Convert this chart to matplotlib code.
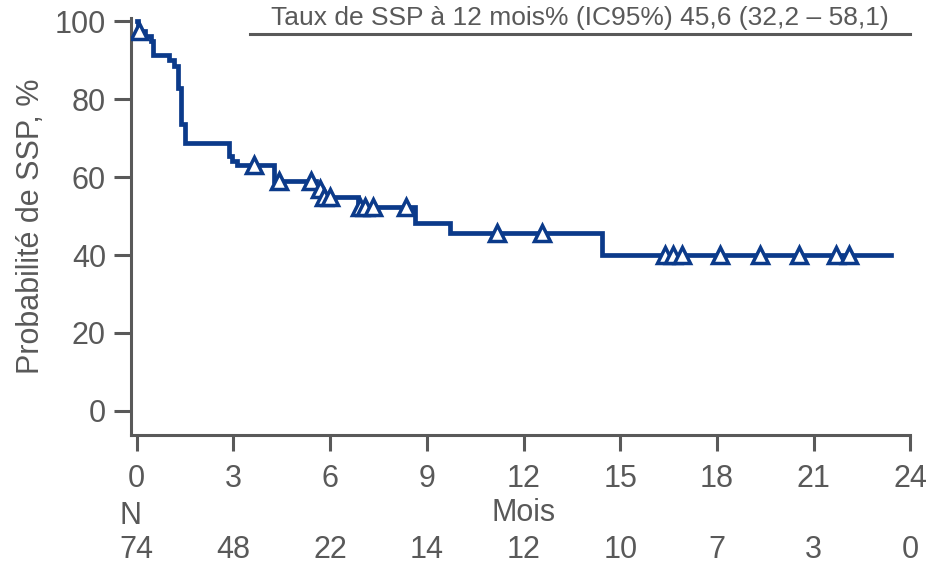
import numpy as np
import matplotlib.pyplot as plt
from matplotlib.transforms import blended_transform_factory

plt.rcParams["font.family"] = ["Liberation Sans", "DejaVu Sans"]

# ----------------------------
# Data
# ----------------------------
# Kaplan-Meier steps: time (months) and survival (%) after each event
event_times = [0, 0.05, 0.25, 0.44, 0.5, 1.0, 1.15, 1.27, 1.38, 1.5,
               2.85, 2.95, 3.1, 4.27, 5.56, 5.7, 6.86, 8.62, 9.71, 14.42]
event_surv = [100, 97.4, 96.2, 95.0, 91.4, 90.0, 88.6, 82.9, 73.6, 68.7,
              65.4, 64.2, 63.0, 59.0, 56.9, 55.0, 52.2, 48.3, 45.6, 40.0]
last_time = 23.39

censor_times = [0.07, 3.65, 4.42, 5.41, 5.67, 5.82, 5.98, 6.91, 7.07, 7.33,
                8.36, 11.16, 12.56, 16.39, 16.65, 16.91, 18.1, 19.34, 20.54,
                21.68, 22.09]

x_ticks = [0, 3, 6, 9, 12, 15, 18, 21, 24]
at_risk = [74, 48, 22, 14, 12, 10, 7, 3, 0]
y_ticks = [0, 20, 40, 60, 80, 100]

header = "Taux de SSP à 12 mois% (IC95%) 45,6 (32,2 – 58,1)"

blue = "#0b3a8a"
grey = "#595959"
fs = 22

# ----------------------------
# Plot
# ----------------------------
fig = plt.figure(figsize=(9.29, 5.65), dpi=100)
ax = fig.add_axes([0.141, 0.230, 0.839, 0.738])

xs = list(event_times) + [last_time]
ys = list(event_surv) + [event_surv[-1]]
ax.step(xs, ys, where="post", color=blue, lw=3.4, solid_joinstyle="miter", zorder=3)

censor_surv = [event_surv[np.searchsorted(event_times, t, side="right") - 1]
               for t in censor_times]
ax.plot(censor_times, censor_surv, ls="none", marker="^", ms=11.5,
        mfc="white", mec=blue, mew=2.5, zorder=4)

ax.set_xlim(-0.18, 24)
ax.set_ylim(-6.2, 100.8)
ax.set_xticks(x_ticks)
ax.set_yticks(y_ticks)

for s in ["top", "right"]:
    ax.spines[s].set_visible(False)
for s in ["left", "bottom"]:
    ax.spines[s].set_color(grey)
    ax.spines[s].set_linewidth(2.2)

ax.tick_params(axis="both", colors=grey, labelcolor=grey, labelsize=fs,
               width=2.2, length=12)
ax.tick_params(axis="x", pad=9, length=11.5)
ax.tick_params(axis="y", pad=6)

ax.set_ylabel("Probabilité de SSP, %", fontsize=fs, color=grey, labelpad=6)

# header line and text above the curve
ax.plot([3.5, 24], [96.7, 96.7], color=grey, lw=2.2, clip_on=False)
ax.text(13.75, 98.9, header, ha="center", va="baseline", fontsize=19,
        color=grey, clip_on=False)

# axis title and number at risk row
trans = blended_transform_factory(ax.transData, fig.transFigure)
ax.text(12, 1 - 513 / 565, "Mois", transform=trans, ha="center",
        va="center", fontsize=fs, color=grey)
ax.text(-0.2, 1 - 516 / 565, "N", transform=trans, ha="center",
        va="center", fontsize=fs, color=grey)
for t, n in zip(x_ticks, at_risk):
    ax.text(t, 1 - 550 / 565, str(n), transform=trans, ha="center",
            va="center", fontsize=fs, color=grey)

fig.savefig("out.png", dpi=100)
